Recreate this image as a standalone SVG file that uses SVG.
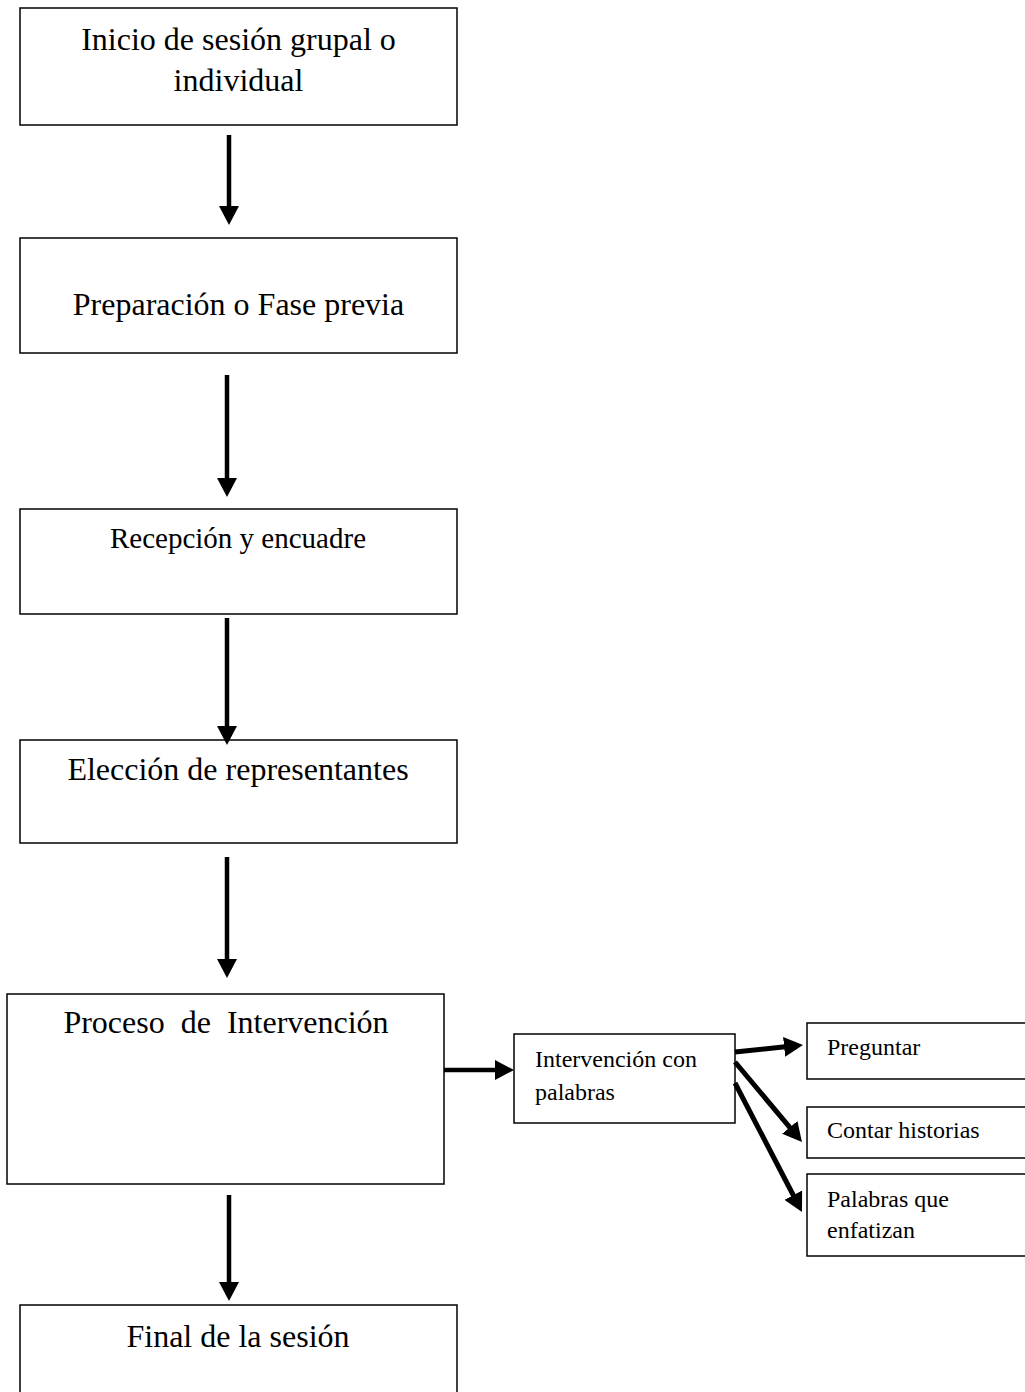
<svg xmlns="http://www.w3.org/2000/svg" width="1025" height="1392" viewBox="0 0 1025 1392">
<style>
.box{fill:#fff;stroke:#000;stroke-width:1.5}
.t{font-family:"Liberation Serif","Times New Roman",serif;fill:#000}
.big{font-size:32px;text-anchor:middle}
.mid{font-size:29px;text-anchor:middle}
.sm{font-size:24px}
.conn{stroke:#000;fill:none;marker-end:url(#ah)}
.v{stroke-width:4.5}
.d{stroke-width:5}
</style>
<defs>
<marker id="ah" markerUnits="userSpaceOnUse" markerWidth="19" markerHeight="20" refX="1" refY="10" orient="auto" viewBox="0 0 19 20">
<path d="M0,0 L19,10 L0,20 z" fill="#000"/>
</marker>
</defs>
<rect width="1025" height="1392" fill="#fff"/>
<g id="n1"><rect class="box" x="20" y="8" width="437" height="117"/>
<text class="t big" x="238.5" y="50">Inicio de sesión grupal o</text>
<text class="t big" x="238.5" y="91">individual</text></g>
<g id="n2"><rect class="box" x="20" y="238" width="437" height="115"/>
<text class="t big" x="238.5" y="315">Preparación o Fase previa</text></g>
<g id="n3"><rect class="box" x="20" y="509" width="437" height="105"/>
<text class="t mid" x="238" y="548">Recepción y encuadre</text></g>
<g id="n4"><rect class="box" x="20" y="740" width="437" height="103"/>
<text class="t big" x="238" y="780">Elección de representantes</text></g>
<g id="n5"><rect class="box" x="7" y="994" width="437" height="190"/>
<text class="t big" x="226" y="1033" xml:space="preserve" style="white-space:pre">Proceso  de  Intervención</text></g>
<g id="n6"><rect class="box" x="20" y="1305" width="437" height="100"/>
<text class="t big" x="238" y="1347">Final de la sesión</text></g>
<g id="n7"><rect class="box" x="514" y="1034" width="221" height="89"/>
<text class="t sm" x="535" y="1067">Intervención con</text>
<text class="t sm" x="535" y="1100">palabras</text></g>
<g id="n8"><rect class="box" x="807" y="1023" width="230" height="56"/>
<text class="t sm" x="827" y="1055">Preguntar</text></g>
<g id="n9"><rect class="box" x="807" y="1107" width="230" height="51"/>
<text class="t sm" x="827" y="1138">Contar historias</text></g>
<g id="n10"><rect class="box" x="807" y="1174" width="230" height="82"/>
<text class="t sm" x="827" y="1207">Palabras que</text>
<text class="t sm" x="827" y="1238">enfatizan</text></g>
<g id="connectors">
<line class="conn v" x1="229" y1="135" x2="229" y2="207"/>
<line class="conn v" x1="227" y1="375" x2="227" y2="479"/>
<line class="conn v" x1="227" y1="618" x2="227" y2="727"/>
<line class="conn v" x1="227" y1="857" x2="227" y2="960"/>
<line class="conn v" x1="229" y1="1195" x2="229" y2="1283"/>
<line class="conn v" x1="444" y1="1070" x2="496" y2="1070"/>
<line class="conn d" x1="735" y1="1052" x2="785.1" y2="1046.8"/>
<line class="conn d" x1="735" y1="1062" x2="790.4" y2="1128.2"/>
<line class="conn d" x1="735" y1="1083" x2="793.7" y2="1196"/>
</g>
</svg>
